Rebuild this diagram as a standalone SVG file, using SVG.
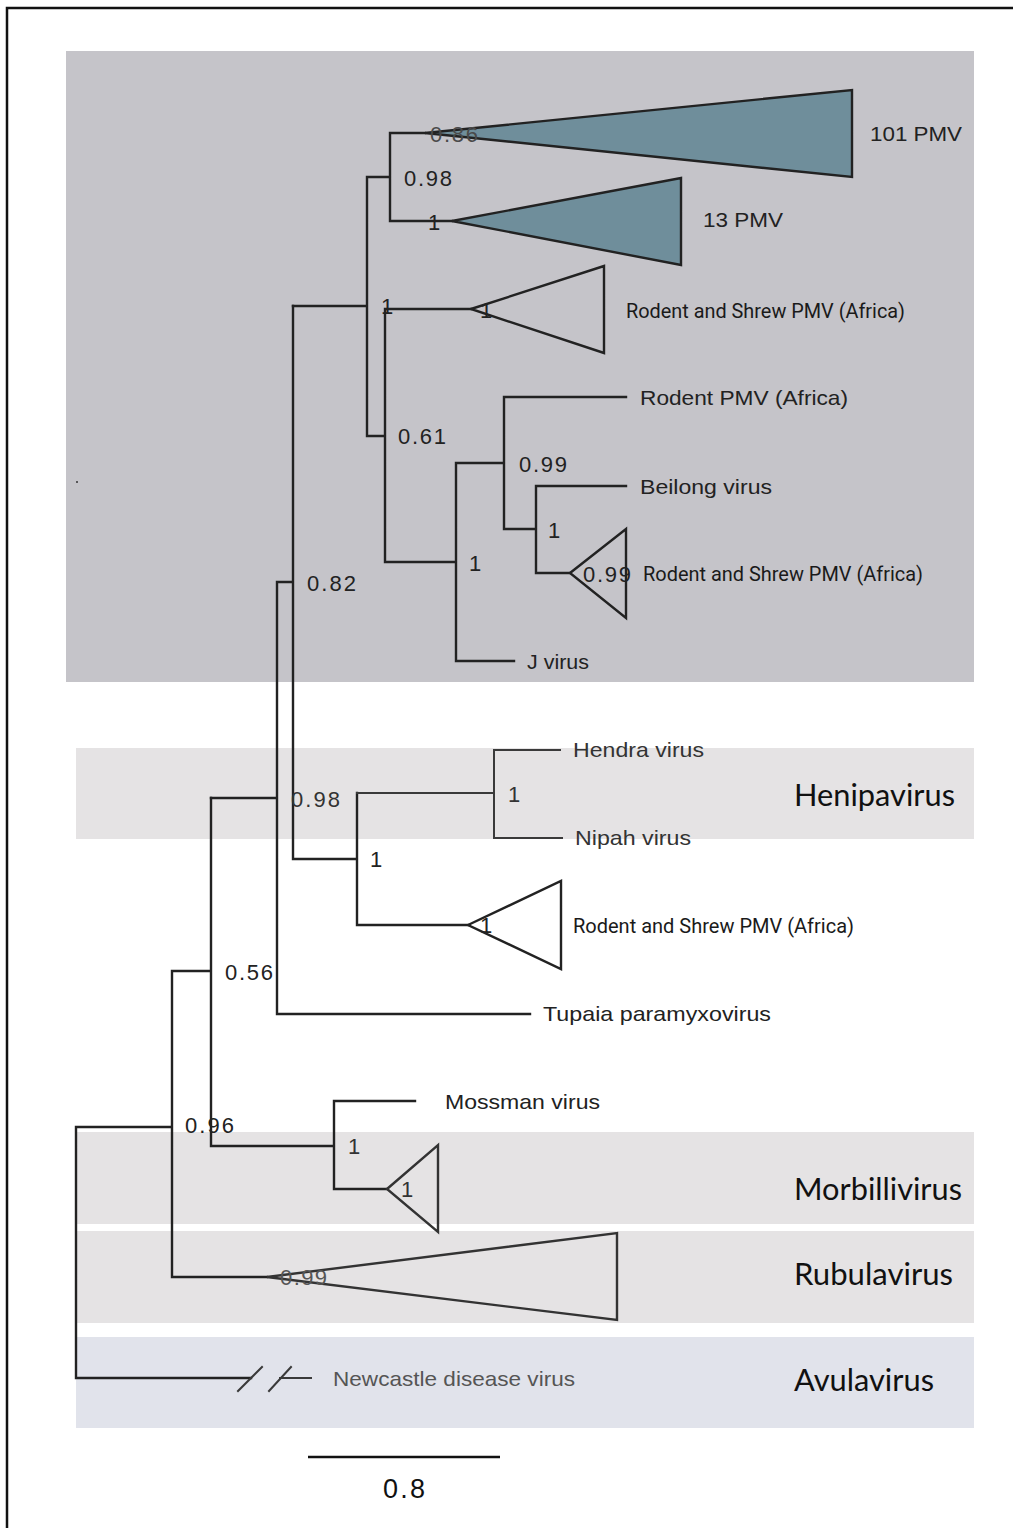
<svg xmlns="http://www.w3.org/2000/svg" width="1013" height="1528" viewBox="0 0 1013 1528">
<defs>
<style>
.br{fill:none;stroke:#222;stroke-width:2.4;stroke-linecap:square}
.brg{fill:none;stroke:#3a3a3a;stroke-width:2;stroke-linecap:square}
.tri{fill:none;stroke:#222;stroke-width:2.4;stroke-linejoin:miter}
.trif{fill:#6f8e9b;stroke:#222;stroke-width:2.4}
.sup{font-family:"Liberation Sans",Arial,sans-serif;font-size:22px;fill:#222}
.lab{font-family:"Liberation Sans",Arial,sans-serif;font-size:21px;fill:#222}
.lbn{font-family:Roboto,"Liberation Sans",sans-serif;font-size:20px;fill:#1a1a1a}
.gen{font-family:Lato,"Open Sans",sans-serif;font-size:30px;fill:#111}
.g3{fill:#333}
.g4{fill:#4a4a4a}
.g5{fill:#555}
</style>
</defs>
<rect width="1013" height="1528" fill="#fff"/>
<g id="frame"><path d="M7,1528 V8 H1013" fill="none" stroke="#111" stroke-width="2.5"/></g>
<g id="bands">
<rect x="66" y="51" width="908" height="631" fill="#c5c4c9"/>
<rect x="76" y="748" width="898" height="91" fill="#e5e3e4"/>
<rect x="76" y="1132" width="898" height="92" fill="#e5e3e4"/>
<rect x="76" y="1231" width="898" height="92" fill="#e5e3e4"/>
<rect x="76" y="1337" width="898" height="91" fill="#e1e3eb"/>
<circle cx="77" cy="482" r="1" fill="#333"/>
</g>
<g id="connectors">
<path class="br" d="M390,133 H425 M390,133 V221 H452 M367,177 H390 M367,177 V436 H385 M293,306 H367 M385,309 H471 M385,309 V562 H456 M456,463 V661 H514 M456,463 H504 M504,397 V529 H536 M504,397 H626 M536,486 H626 M536,486 V573 H570"/>
<path class="br" d="M293,306 V859 H357 M277,582 H293 M277,582 V1014 H530 M211,798 H277 M357,793 V925 H468"/>
<path class="brg" d="M357,793 H494 M494,750 V838 M494,750 H560 M494,838 H562"/>
<path class="br" d="M211,798 V1146 H334 M172,971 H211 M172,971 V1277 H267 M76,1127 H172 M76,1127 V1378 H251 M334,1101 V1189 H387 M334,1101 H415"/>
<path class="brg" d="M238,1391 L262,1367 M269,1391 L291,1367 M280,1378 H311"/>
<line x1="308" y1="1457" x2="500" y2="1457" stroke="#111" stroke-width="2.5"/>
</g>
<g id="node-101PMV"><polygon class="trif" points="425,133 852,90 852,177"/><text class="lab" x="870" y="141" textLength="92" lengthAdjust="spacingAndGlyphs">101 PMV</text></g>
<g id="node-13PMV"><polygon class="trif" points="452,221 681,178 681,265"/><text class="lab" x="703" y="227" textLength="80" lengthAdjust="spacingAndGlyphs">13 PMV</text></g>
<g id="node-rs1"><polygon class="tri" points="471,309 604,266 604,353"/><text class="lbn" x="626" y="318" textLength="279" lengthAdjust="spacingAndGlyphs">Rodent and Shrew PMV (Africa)</text></g>
<g id="node-rodentpmv"><text class="lab" x="640" y="405" textLength="208" lengthAdjust="spacingAndGlyphs">Rodent PMV (Africa)</text></g>
<g id="node-beilong"><text class="lab" x="640" y="494" textLength="132" lengthAdjust="spacingAndGlyphs">Beilong virus</text></g>
<g id="node-rs2"><polygon class="tri" points="570,573 626,529 626,618"/><text class="lbn" x="643" y="581" textLength="280" lengthAdjust="spacingAndGlyphs">Rodent and Shrew PMV (Africa)</text></g>
<g id="node-j"><text class="lab" x="527" y="669" textLength="62" lengthAdjust="spacingAndGlyphs">J virus</text></g>
<g id="node-hendra"><text class="lab g3" x="573" y="757" textLength="131" lengthAdjust="spacingAndGlyphs">Hendra virus</text></g>
<g id="node-nipah"><text class="lab g3" x="575" y="845" textLength="116" lengthAdjust="spacingAndGlyphs">Nipah virus</text></g>
<g id="node-rs3"><polygon class="tri" points="468,925 561,881 561,969"/><text class="lbn" x="573" y="933" textLength="281" lengthAdjust="spacingAndGlyphs">Rodent and Shrew PMV (Africa)</text></g>
<g id="node-tupaia"><text class="lab" x="543" y="1021" textLength="228" lengthAdjust="spacingAndGlyphs">Tupaia paramyxovirus</text></g>
<g id="node-mossman"><text class="lab" x="445" y="1109" textLength="155" lengthAdjust="spacingAndGlyphs">Mossman virus</text></g>
<g id="node-morbilli"><polygon class="tri" style="stroke:#333" points="387,1189 438,1145 438,1232"/></g>
<g id="node-rubula"><polygon class="tri" style="stroke:#333" points="267,1277 617,1233 617,1320"/></g>
<g id="node-newcastle"><text class="lab g5" x="333" y="1386" textLength="242" lengthAdjust="spacingAndGlyphs">Newcastle disease virus</text></g>
<g id="genera">
<text class="gen" x="794" y="806" textLength="161" lengthAdjust="spacingAndGlyphs">Henipavirus</text>
<text class="gen" x="794" y="1200" textLength="168" lengthAdjust="spacingAndGlyphs">Morbillivirus</text>
<text class="gen" x="794" y="1285" textLength="159" lengthAdjust="spacingAndGlyphs">Rubulavirus</text>
<text class="gen" x="794" y="1391" textLength="140" lengthAdjust="spacingAndGlyphs">Avulavirus</text>
</g>
<g id="supports">
<text class="sup g4" x="430" y="142" textLength="48" lengthAdjust="spacing">0.86</text>
<text class="sup" x="404" y="186" textLength="48" lengthAdjust="spacing">0.98</text>
<text class="sup" x="428" y="230">1</text>
<text class="sup" x="381" y="314">1</text>
<text class="sup" x="480" y="318">1</text>
<text class="sup" x="398" y="444" textLength="48" lengthAdjust="spacing">0.61</text>
<text class="sup" x="519" y="472" textLength="48" lengthAdjust="spacing">0.99</text>
<text class="sup" x="548" y="538">1</text>
<text class="sup" x="469" y="571">1</text>
<text class="sup" x="583" y="582" textLength="48" lengthAdjust="spacing">0.99</text>
<text class="sup" x="307" y="591" textLength="49" lengthAdjust="spacing">0.82</text>
<text class="sup g3" x="291" y="807" textLength="49" lengthAdjust="spacing">0.98</text>
<text class="sup g3" x="508" y="802">1</text>
<text class="sup" x="370" y="867">1</text>
<text class="sup" x="480" y="933">1</text>
<text class="sup" x="225" y="980" textLength="48" lengthAdjust="spacing">0.56</text>
<text class="sup" x="185" y="1133" textLength="49" lengthAdjust="spacing">0.96</text>
<text class="sup g3" x="348" y="1154">1</text>
<text class="sup g3" x="401" y="1197">1</text>
<text class="sup g5" x="280" y="1285" textLength="47" lengthAdjust="spacing">0.99</text>
<text class="sup" style="font-size:27px;fill:#111" x="383" y="1498" textLength="42" lengthAdjust="spacing">0.8</text>
</g>
</svg>
